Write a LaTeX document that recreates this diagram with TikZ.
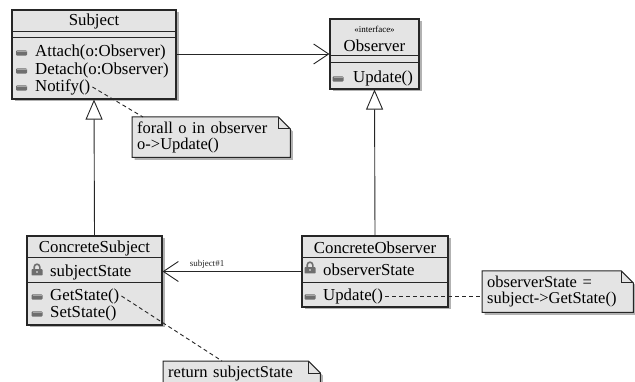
\documentclass[tikz,border=0pt]{standalone}
\usepackage{fontspec}
\setmainfont{Liberation Serif}
\usetikzlibrary{arrows.meta,shadows}
\pgfdeclarelayer{background}
\pgfsetlayers{background,main}
\definecolor{boxfill}{HTML}{E4E4E4}
\definecolor{iconcol}{HTML}{6E6E6E}
\tikzset{
  classbox/.style={draw=black!85, line width=1.1pt, fill=boxfill, inner sep=0pt,
    drop shadow={shadow xshift=2.5pt, shadow yshift=-2.5pt, fill=black!30, opacity=1}},
  member/.style={font=\fontsize{16.8}{18}\selectfont, inner sep=0pt, anchor=west},
  ctitle/.style={font=\fontsize{16.8}{18}\selectfont, inner sep=0pt},
  smalltext/.style={font=\fontsize{9}{10}\selectfont, inner sep=0pt},
  notetext/.style={font=\fontsize{16.5}{15.5}\selectfont, inner xsep=5pt, inner ysep=0pt,
    align=left, anchor=north west},
  notepaper/.style={draw=black!85, line width=1pt, fill=boxfill,
    drop shadow={shadow xshift=2.5pt, shadow yshift=-2.5pt, fill=black!30, opacity=1}},
  divider/.style={draw=black!85, line width=1pt},
  link/.style={line width=0.9pt, black!85},
  notelink/.style={line width=0.9pt, black!85, dash pattern=on 4pt off 3pt},
  realize/.style={link, -{Triangle[open, length=20pt, width=17pt, fill=white]}},
  navigate/.style={link, -{Straight Barb[length=15pt, width=20pt, line width=0.9pt]}},
  methodicon/.pic={
    \fill[iconcol, rounded corners=1pt] (-5.5,-2.6) rectangle (5.5,2.6);
    \fill[black!35] (-4.5,-2.2) rectangle (5,-0.8);
  },
  lockicon/.pic={
    \draw[iconcol, line width=1.6pt] (-2.8,-0.5) -- (-2.8,-3) arc[start angle=180, end angle=360, radius=2.8] -- (2.8,-0.5);
    \fill[iconcol, rounded corners=0.6pt] (-5.5,-0.8) rectangle (5.5,5.5);
    \fill[black!30] (-0.9,1.2) rectangle (0.9,3.4);
  }
}

\begin{document}
\begin{tikzpicture}[x=1pt, y=-1pt]
\useasboundingbox (0,0) rectangle (635,382);
\clip (0,0) rectangle (635,382);

% ---- class Subject ----
\node[classbox, minimum width=164pt, minimum height=89pt] (subj) at (94,54.5) {};
\draw[divider] (subj.west |- 0,32) -- (subj.east |- 0,32);
\draw[divider] (subj.west |- 0,38) -- (subj.east |- 0,38);
\node[ctitle] (subjtitle) at (94,21) {Subject};
\pic at (21.5,53) {methodicon};
\pic at (21.5,71) {methodicon};
\pic at (21.5,88) {methodicon};
\node[member] (attach) at (35,52) {Attach(o:Observer)};
\node[member] (detach) at (35,70) {Detach(o:Observer)};
\node[member] (notify) at (35,87) {Notify()};

% ---- interface Observer ----
\node[classbox, minimum width=89pt, minimum height=70pt] (obs) at (374.5,54) {};
\draw[divider] (obs.west |- 0,56) -- (obs.east |- 0,56);
\draw[divider] (obs.west |- 0,63) -- (obs.east |- 0,63);
\node[smalltext] (obsstereo) at (374.5,29) {«interface»};
\node[ctitle] (obstitle) at (374.5,46) {Observer};
\pic at (338,79) {methodicon};
\node[member] (obsupdate) at (353,78) {Update()};

% ---- class ConcreteSubject ----
\node[classbox, minimum width=135pt, minimum height=89pt] (csubj) at (94.5,280.5) {};
\draw[divider] (csubj.west |- 0,258) -- (csubj.east |- 0,258);
\draw[divider] (csubj.west |- 0,283) -- (csubj.east |- 0,283);
\node[ctitle] (csubjtitle) at (94.5,248) {ConcreteSubject};
\pic at (37,270) {lockicon};
\pic at (37,297) {methodicon};
\pic at (37,314) {methodicon};
\node[member] (subjstate) at (50,272) {subjectState};
\node[member] (getstate) at (50,296) {GetState()};
\node[member] (setstate) at (50,313) {SetState()};

% ---- class ConcreteObserver ----
\node[classbox, minimum width=146pt, minimum height=71pt] (cobs) at (375,271.5) {};
\draw[divider] (cobs.west |- 0,258) -- (cobs.east |- 0,258);
\draw[divider] (cobs.west |- 0,283) -- (cobs.east |- 0,283);
\node[ctitle] (cobstitle) at (375,248) {ConcreteObserver};
\pic at (310,268) {lockicon};
\pic at (310,297) {methodicon};
\node[member] (obsstate) at (323,270) {observerState};
\node[member] (cobsupdate) at (323,296) {Update()};

% ---- notes ----
\node[notetext, text width=148pt, minimum height=40pt] (note1) at (132,117)
  {forall o in observer\\o->Update()};
\node[notetext, text width=141pt, minimum height=41pt] (note2) at (482,271)
  {observerState =\\subject->GetState()};
\node[notetext, text width=147pt, minimum height=25pt] (note3) at (163,361)
  {return subjectState};
\begin{pgfonlayer}{background}
  \foreach \n in {note1,note2,note3}{
    \draw[notepaper] (\n.north west) -- ([xshift=-12pt]\n.north east)
      -- ([yshift=-12pt]\n.north east) -- (\n.south east) -- (\n.south west) -- cycle;
    \draw[line width=1pt, black!85] ([xshift=-12pt]\n.north east)
      -- ([xshift=-12pt, yshift=-12pt]\n.north east) -- ([yshift=-12pt]\n.north east);
  }
\end{pgfonlayer}

% ---- relationships ----
\draw[navigate] (subj.east |- obs.west) -- (obs.west);
\draw[realize] (csubj.north) -- (subj.south);
\draw[realize] (cobs.north) -- (obs.south);
\draw[navigate] (cobs.west) -- (csubj.east |- cobs.west)
  node[smalltext, pos=0.68, above=3pt] (rolelabel) {subject\#1};

% ---- note attachments ----
\draw[notelink] ([xshift=2pt]notify.east) -- ([xshift=11pt]note1.north west);
\draw[notelink] ([xshift=2pt]getstate.east) -- ([xshift=59pt]note3.north west);
\draw[notelink] ([xshift=2pt]cobsupdate.east) -- (note2.west |- cobsupdate.east);
\end{tikzpicture}
\end{document}
